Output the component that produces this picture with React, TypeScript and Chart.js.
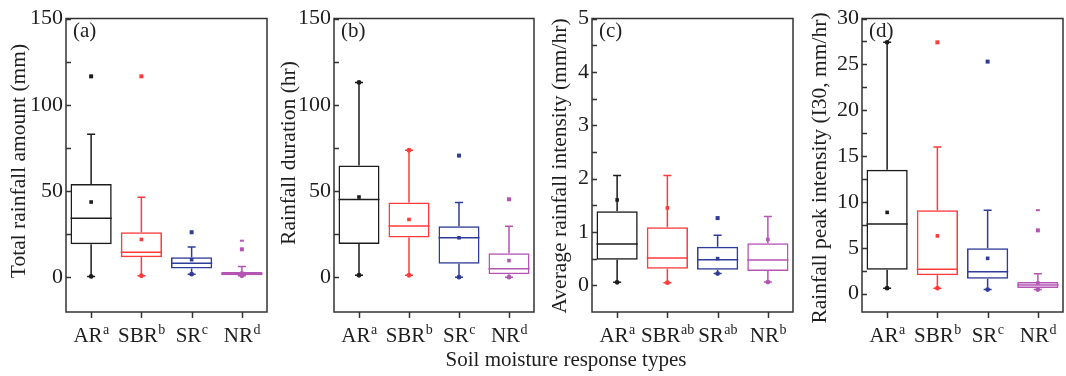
import React, { useEffect, useRef } from 'react';
import { Chart, registerables } from 'chart.js';
Chart.register(...registerables);

const FONT = '"Liberation Serif", "Times New Roman", serif';
const TEXT = '#1e1e1e';

const categories = ['AR', 'SBR', 'SR', 'NR'];
const colors = ['#1c1c1c', '#ff3b3b', '#2f3c9a', '#b455b4'];
const xTitle = 'Soil moisture response types';

// Panel (a) Total rainfall amount
const aSup = ['a', 'b', 'c', 'd'];
const aQ1 = [19.3, 11.7, 5.2, 1.3];
const aMed = [34.3, 14.6, 8.2, 2.1];
const aQ3 = [54.2, 26.2, 11.7, 3.1];
const aLo = [0.6, 1.0, 1.9, 1.0];
const aHi = [83, 46.5, 17.6, 6.3];
const aMean = [43.7, 22.0, 10.3, 2.5];
const aOut = [[116.5], [116.5], [26.2], [16.3]];
const aDash = [[], [], [], [21.3]];
const aDots = [[0.6], [1.0], [1.9], [1.0]];
const aMajor = [0, 50, 100, 150];
const aMinor = [25, 75, 125];

// Panel (b) Rainfall duration
const bSup = ['a', 'b', 'c', 'd'];
const bQ1 = [19.4, 23.2, 7.9, 1.9];
const bMed = [45.1, 29.8, 23.0, 5.0];
const bQ3 = [64.9, 43.4, 29.6, 14.0];
const bLo = [1.3, 1.3, 0.2, 0.2];
const bHi = [113, 73.7, 43.4, 29.6];
const bMean = [46.6, 33.6, 23.0, 9.8];
const bOut = [[], [], [70.6], [45.3]];
const bDash = [[], [], [], []];
const bDots = [[1.3, 113], [1.3, 73.7], [0.2], [0.2]];
const bMajor = [0, 50, 100, 150];
const bMinor = [25, 75, 125];

// Panel (c) Average rainfall intensity
const cSup = ['a', 'ab', 'ab', 'b'];
const cQ1 = [0.48, 0.31, 0.29, 0.27];
const cMed = [0.775, 0.51, 0.48, 0.475];
const cQ3 = [1.39, 1.09, 0.725, 0.79];
const cLo = [0.056, 0.05, 0.22, 0.06];
const cHi = [2.06, 2.06, 0.94, 1.29];
const cMean = [1.6, 1.45, 0.5, 0.86];
const cOut = [[], [], [1.26], []];
const cDash = [[], [], [], []];
const cDots = [[0.056], [0.05], [0.22], [0.06]];
const cMajor = [0, 1, 2, 3, 4, 5];
const cMinor = [0.5, 1.5, 2.5, 3.5, 4.5];

// Panel (d) Rainfall peak intensity
const dSup = ['a', 'b', 'c', 'd'];
const dQ1 = [2.6, 2.0, 1.63, 0.62];
const dMed = [7.6, 2.65, 2.4, 0.94];
const dQ3 = [13.5, 9.1, 4.94, 1.27];
const dLo = [0.6, 0.6, 0.44, 0.44];
const dHi = [27.4, 16.0, 9.1, 2.18];
const dMean = [8.86, 6.3, 3.85, 1.16];
const dOut = [[], [27.4], [25.3], [6.9]];
const dDash = [[], [], [], [9.1]];
const dDots = [[0.6, 27.4], [0.6], [0.44], [0.44]];
const dMajor = [0, 5, 10, 15, 20, 25, 30];
const dMinor = [2.5, 7.5, 12.5, 17.5, 22.5, 27.5];

const W = 1066;
const H = 376;

const panels = [
  { letter: '(a)', title: 'Total rainfall amount (mm)', tx: 19, ty: 161, sup: aSup, q1: aQ1, med: aMed, q3: aQ3, lo: aLo, hi: aHi, mean: aMean, out: aOut, dash: aDash, dots: aDots, major: aMajor, minor: aMinor, min: -20, max: 150, left: 66, right: 267, top: 18.5, bottom: 312, yW: 40 },
  { letter: '(b)', title: 'Rainfall duration (hr)', tx: 289, ty: 153, sup: bSup, q1: bQ1, med: bMed, q3: bQ3, lo: bLo, hi: bHi, mean: bMean, out: bOut, dash: bDash, dots: bDots, major: bMajor, minor: bMinor, min: -20, max: 150, left: 334, right: 534, top: 18.5, bottom: 312, yW: 40 },
  { letter: '(c)', title: 'Average rainfall intensity (mm/hr)', tx: 560, ty: 166, sup: cSup, q1: cQ1, med: cMed, q3: cQ3, lo: cLo, hi: cHi, mean: cMean, out: cOut, dash: cDash, dots: cDots, major: cMajor, minor: cMinor, min: -0.5, max: 5, left: 592, right: 793, top: 18.5, bottom: 312, yW: 20 },
  { letter: '(d)', title: 'Rainfall peak intensity (I30, mm/hr)', tx: 820, ty: 168, sup: dSup, q1: dQ1, med: dMed, q3: dQ3, lo: dLo, hi: dHi, mean: dMean, out: dOut, dash: dDash, dots: dDots, major: dMajor, minor: dMinor, min: -2, max: 30, left: 862, right: 1063, top: 18.5, bottom: 312, yW: 30 },
];

function makePlugin(p: any) {
  return {
    id: 'boxExtras',
    afterDatasetsDraw(chart: any) {
      const ctx = chart.ctx;
      const ca = chart.chartArea;
      const xs = chart.scales.x;
      const ys = chart.scales.y;
      const meta = chart.getDatasetMeta(0);
      ctx.save();
      for (let i = 0; i < categories.length; i++) {
        const col = colors[i];
        const x = xs.getPixelForValue(i);
        const bw = meta.data[i] ? meta.data[i].width : 40;
        ctx.strokeStyle = col;
        ctx.fillStyle = col;
        ctx.lineWidth = 1.5;
        const yq1 = ys.getPixelForValue(p.q1[i]);
        const yq3 = ys.getPixelForValue(p.q3[i]);
        const ylo = ys.getPixelForValue(p.lo[i]);
        const yhi = ys.getPixelForValue(p.hi[i]);
        const ymed = ys.getPixelForValue(p.med[i]);
        ctx.beginPath();
        ctx.moveTo(x, yq3); ctx.lineTo(x, yhi);
        ctx.moveTo(x, yq1); ctx.lineTo(x, ylo);
        ctx.moveTo(x - 4, yhi); ctx.lineTo(x + 4, yhi);
        ctx.moveTo(x - 4, ylo); ctx.lineTo(x + 4, ylo);
        ctx.moveTo(x - bw / 2, ymed); ctx.lineTo(x + bw / 2, ymed);
        ctx.stroke();
        const ym = ys.getPixelForValue(p.mean[i]);
        ctx.fillRect(x - 1.8, ym - 1.8, 3.6, 3.6);
        for (const v of p.out[i]) {
          const yo = ys.getPixelForValue(v);
          ctx.fillRect(x - 2, yo - 2, 4, 4);
        }
        for (const v of p.dash[i]) {
          const yd = ys.getPixelForValue(v);
          ctx.fillRect(x - 2, yd - 1, 4, 2);
        }
        for (const v of p.dots[i]) {
          const yd = ys.getPixelForValue(v);
          ctx.beginPath();
          ctx.arc(x, yd, 2.4, 0, Math.PI * 2);
          ctx.fill();
        }
      }
      // frame
      ctx.strokeStyle = '#333';
      ctx.lineWidth = 1.5;
      ctx.strokeRect(ca.left, ca.top, ca.right - ca.left, ca.bottom - ca.top);
      // y ticks inward, x ticks outward
      ctx.beginPath();
      for (const v of [...p.major, ...p.minor]) {
        const y = Math.round(ys.getPixelForValue(v)) + 0.5;
        ctx.moveTo(ca.left, y); ctx.lineTo(ca.left + 5, y);
      }
      for (let i = 0; i < categories.length; i++) {
        const x = Math.round(xs.getPixelForValue(i)) + 0.5;
        ctx.moveTo(x, ca.bottom); ctx.lineTo(x, ca.bottom + 6);
      }
      ctx.stroke();
      // x labels with superscripts
      ctx.fillStyle = TEXT;
      ctx.textBaseline = 'alphabetic';
      ctx.textAlign = 'left';
      for (let i = 0; i < categories.length; i++) {
        const x = xs.getPixelForValue(i);
        ctx.font = `21px ${FONT}`;
        const w1 = ctx.measureText(categories[i]).width;
        ctx.font = `14px ${FONT}`;
        const w2 = ctx.measureText(p.sup[i]).width;
        const start = x - (w1 + w2) / 2;
        ctx.font = `21px ${FONT}`;
        ctx.fillText(categories[i], start, 342);
        ctx.font = `14px ${FONT}`;
        ctx.fillText(p.sup[i], start + w1 + 0.5, 334);
      }
      // panel letter
      ctx.font = `21px ${FONT}`;
      ctx.textBaseline = 'middle';
      ctx.fillText(p.letter, ca.left + 7, ca.top + 13);
      // y-axis title
      ctx.save();
      ctx.translate(p.tx, p.ty);
      ctx.rotate(-Math.PI / 2);
      ctx.textAlign = 'center';
      ctx.textBaseline = 'middle';
      ctx.font = `21.5px ${FONT}`;
      ctx.fillText(p.title, 0, 0);
      ctx.restore();
      ctx.restore();
    },
  };
}

function Panel({ p }: { p: any }) {
  const ref = useRef<HTMLCanvasElement>(null);
  useEffect(() => {
    if (!ref.current) return;
    const ticksAll = [...p.major, ...p.minor].sort((a: number, b: number) => a - b);
    const chart = new Chart(ref.current, {
      type: 'bar',
      data: {
        labels: categories,
        datasets: [
          {
            data: p.q1.map((v: number, i: number) => [v, p.q3[i]]),
            backgroundColor: 'rgba(0,0,0,0)',
            borderColor: colors,
            borderWidth: 1.5,
            borderSkipped: false,
            barPercentage: 0.82,
            categoryPercentage: 1,
          } as any,
        ],
      },
      options: {
        animation: false,
        responsive: false,
        maintainAspectRatio: false,
        devicePixelRatio: 1,
        events: [],
        layout: { padding: { left: p.left - p.yW, right: W - p.right, top: p.top, bottom: 0 } },
        plugins: { legend: { display: false }, tooltip: { enabled: false } },
        scales: {
          x: {
            type: 'category',
            offset: true,
            grid: { display: false, drawTicks: false },
            border: { display: false },
            ticks: { display: false },
            afterFit: (s: any) => { s.height = H - p.bottom; },
          },
          y: {
            type: 'linear',
            min: p.min,
            max: p.max,
            grid: { display: false, drawTicks: false },
            border: { display: false },
            afterBuildTicks: (s: any) => { s.ticks = ticksAll.map((v: number) => ({ value: v })); },
            ticks: {
              autoSkip: false,
              padding: 3,
              color: TEXT,
              font: { family: FONT, size: 22 },
              callback: (v: any) => (p.major.includes(Number(v)) ? String(v) : ''),
            },
            title: { display: false },
            afterFit: (s: any) => { s.width = p.yW; },
          },
        },
      } as any,
      plugins: [makePlugin(p)],
    });
    return () => chart.destroy();
  }, [p]);
  return (
    <canvas
      ref={ref}
      width={W}
      height={H}
      style={{ position: 'absolute', left: 0, top: 0, width: W, height: H }}
    />
  );
}

export default function App() {
  return (
    <div style={{ position: 'absolute', left: 0, top: 0, width: W, height: H, background: '#fff', overflow: 'hidden' }}>
      {panels.map((p, i) => (
        <Panel key={i} p={p} />
      ))}
      <div
        style={{
          position: 'absolute',
          left: 366,
          width: 400,
          top: 347,
          textAlign: 'center',
          fontFamily: FONT,
          fontSize: 21,
          lineHeight: '24px',
          color: TEXT,
        }}
      >
        {xTitle}
      </div>
    </div>
  );
}
